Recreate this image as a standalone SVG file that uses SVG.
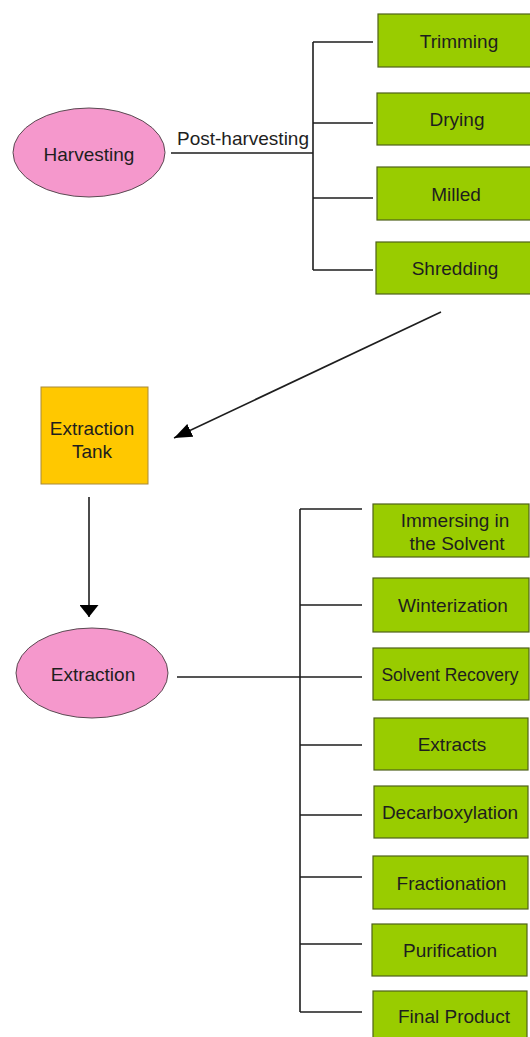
<svg xmlns="http://www.w3.org/2000/svg" width="530" height="1037" viewBox="0 0 530 1037">
<style>
.box{fill:#99cc00;stroke:#4f6219;stroke-width:1.2}
.ell{fill:#f598cc;stroke:#5a4a52;stroke-width:1}
.tank{fill:#ffc800;stroke:#a88a3a;stroke-width:1}
.t{font-family:"Liberation Sans",Arial,sans-serif;font-size:19px;fill:#1e1e1e;text-anchor:middle}
.ln{stroke:#1e1e1e;stroke-width:1.6;fill:none}
</style>
<defs>
<marker id="ah" viewBox="0 0 18 14" refX="18" refY="7" markerWidth="18" markerHeight="14" orient="auto" markerUnits="userSpaceOnUse"><path d="M0,0 L18,7 L0,14 z" fill="#000"/></marker>
<marker id="ahd" viewBox="0 0 12 19" refX="12" refY="9.5" markerWidth="12" markerHeight="19" orient="auto" markerUnits="userSpaceOnUse"><path d="M0,0 L12,9.5 L0,19 z" fill="#000"/></marker>
</defs>
<rect width="530" height="1037" fill="#fff"/>
<g id="connectors">
<path class="ln" d="M171,153 H313 M313,42 V270 M313,42 H373 M313,123 H373 M313,198 H373 M313,270 H373"/>
<line class="ln" x1="441" y1="312" x2="174" y2="438" marker-end="url(#ah)"/>
<line class="ln" x1="89" y1="497" x2="89" y2="617" marker-end="url(#ahd)"/>
<path class="ln" d="M177,677 H362 M300,509 V1012 M300,509 H362 M300,605 H362 M300,745 H362 M300,815 H362 M300,877 H362 M300,944 H362 M300,1012 H362"/>
<text class="t" x="243" y="145">Post-harvesting</text>
</g>
<g id="harvesting"><ellipse class="ell" cx="89" cy="152.5" rx="76" ry="44.5"/><text class="t" x="89" y="161">Harvesting</text></g>
<g id="trimming"><rect class="box" x="378" y="14" width="153" height="53"/><text class="t" x="459" y="48">Trimming</text></g>
<g id="drying"><rect class="box" x="377" y="93" width="154" height="52"/><text class="t" x="457" y="126">Drying</text></g>
<g id="milled"><rect class="box" x="377" y="167" width="154" height="53"/><text class="t" x="456" y="201">Milled</text></g>
<g id="shredding"><rect class="box" x="376" y="242" width="155" height="52"/><text class="t" x="455" y="275">Shredding</text></g>
<g id="extraction-tank"><rect class="tank" x="41" y="387" width="107" height="97"/><text class="t" x="92" y="435">Extraction</text><text class="t" x="92" y="458">Tank</text></g>
<g id="extraction"><ellipse class="ell" cx="92" cy="673" rx="76" ry="45"/><text class="t" x="93" y="681">Extraction</text></g>
<g id="immersing"><rect class="box" x="373" y="504" width="156" height="53"/><text class="t" x="455" y="527">Immersing in</text><text class="t" x="457" y="550">the Solvent</text></g>
<g id="winterization"><rect class="box" x="373" y="578" width="156" height="54"/><text class="t" x="453" y="612">Winterization</text></g>
<g id="solvent-recovery"><rect class="box" x="373" y="648" width="156" height="52"/><text class="t" x="450" y="681" style="font-size:17.5px">Solvent Recovery</text></g>
<g id="extracts"><rect class="box" x="374" y="718" width="154" height="52"/><text class="t" x="452" y="751">Extracts</text></g>
<g id="decarboxylation"><rect class="box" x="374" y="786" width="154" height="52"/><text class="t" x="450" y="819">Decarboxylation</text></g>
<g id="fractionation"><rect class="box" x="373" y="856" width="155" height="53"/><text class="t" x="451.5" y="890">Fractionation</text></g>
<g id="purification"><rect class="box" x="372" y="924" width="155" height="52"/><text class="t" x="450" y="957">Purification</text></g>
<g id="final-product"><rect class="box" x="373" y="991" width="154" height="52"/><text class="t" x="454" y="1023">Final Product</text></g>
</svg>
